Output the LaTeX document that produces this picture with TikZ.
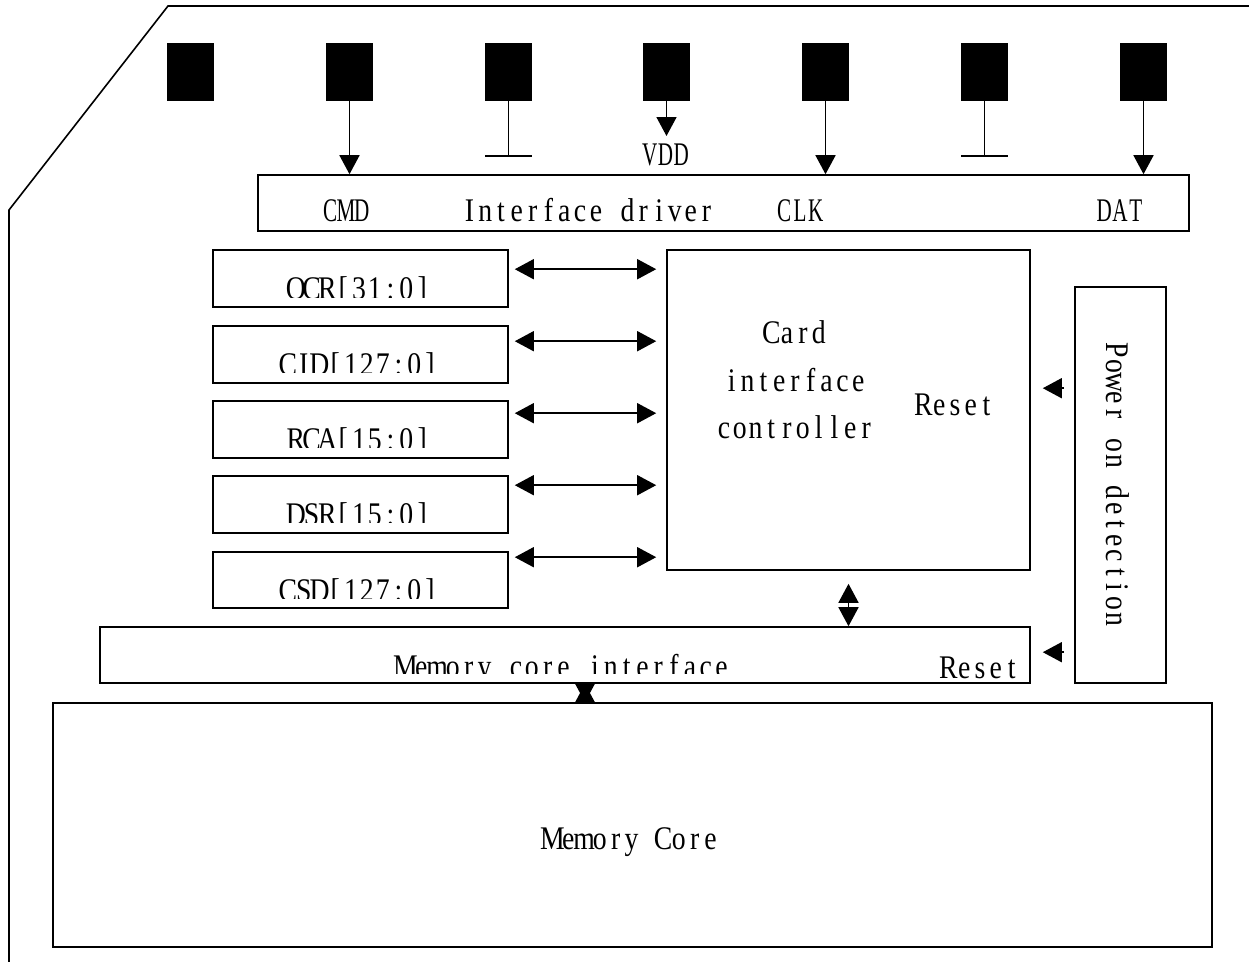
\documentclass[tikz,border=0pt]{standalone}
\usepackage{fontspec}
\setmainfont{Liberation Serif}
\newfontfamily\txtfont[FakeStretch=0.84]{Liberation Serif}
\newfontfamily\condfont[FakeStretch=0.64]{Liberation Serif}
\usetikzlibrary{arrows.meta,calc}
\ExplSyntaxOn
\NewDocumentCommand \mono { m } { \tl_map_inline:nn {#1} { \makebox[15.8pt]{##1} } }
\ExplSyntaxOff
\tikzset{
  box/.style={draw, line width=1.6pt, inner sep=0pt},
  pinbox/.style={fill=black, inner sep=0pt, minimum width=47pt, minimum height=58pt},
  arr/.style={line width=1.6pt, -{Triangle[length=19pt,width=20pt]}},
  dbl/.style={line width=1.6pt, {Triangle[length=19pt,width=20pt]}-{Triangle[length=19pt,width=20pt]}},
  lbl/.style={anchor=base, inner sep=0pt, font=\txtfont\fontsize{33}{40}\selectfont},
  clbl/.style={lbl, font=\condfont\fontsize{33}{40}\selectfont},
}
\begin{document}
\begin{tikzpicture}[x=1pt,y=-1pt]
\useasboundingbox[fill=white] (0,0) rectangle (1249,961);
% card outline
\draw[line width=1.6pt] (1252,6) -- (168,6) -- (9,210) -- (9,964);
% pins
\foreach \i/\x in {1/190.5,2/349.5,3/508.5,4/666.5,5/825.5,6/984.5,7/1143.5}
  \node[pinbox] (p\i) at (\x,72) {};
% boxes
\node[box, minimum width=931pt, minimum height=56pt] (drv) at (723.5,203) {};
\node[box, minimum width=295pt, minimum height=57pt] (ocr) at (360.5,278.5) {};
\node[box, minimum width=295pt, minimum height=57pt] (cid) at (360.5,354.5) {};
\node[box, minimum width=295pt, minimum height=57pt] (rca) at (360.5,429.5) {};
\node[box, minimum width=295pt, minimum height=57pt] (dsr) at (360.5,504.5) {};
\node[box, minimum width=295pt, minimum height=56pt] (csd) at (360.5,580) {};
\node[box, minimum width=363pt, minimum height=320pt] (ctrl) at (848.5,410) {};
\node[box, minimum width=930pt, minimum height=56pt] (mci) at (565,655) {};
\node[box, minimum width=91pt, minimum height=396pt] (pod) at (1120.5,485) {};
\node[box, minimum width=1159pt, minimum height=244pt] (mem) at (632.5,825) {};
% pin connectors
\draw[arr] (p2.south) -- (p2.south |- drv.north);
\draw[arr] (p5.south) -- (p5.south |- drv.north);
\draw[arr] (p7.south) -- (p7.south |- drv.north);
\coordinate (g3) at (508.5,156);
\coordinate (g6) at (984.5,156);
\coordinate (vdd) at (666.5,136);
\draw[line width=1.6pt] (p3.south) -- (g3);
\draw[line width=1.6pt] ([xshift=-23.5pt]g3) -- ([xshift=23.5pt]g3);
\draw[line width=1.6pt] (p6.south) -- (g6);
\draw[line width=1.6pt] ([xshift=-23.5pt]g6) -- ([xshift=23.5pt]g6);
\draw[arr] (p4.south) -- (vdd);
\node[clbl] (vddl) at (665.5,165) {\mono{VDD}};
% register arrows
\draw[dbl] ($(ocr.north east)+(6,20)$) -- ($(ocr.north east -| ctrl.west)+(-10,20)$);
\draw[dbl] ($(cid.north east)+(6,16)$) -- ($(cid.north east -| ctrl.west)+(-10,16)$);
\draw[dbl] ($(rca.north east)+(6,13)$) -- ($(rca.north east -| ctrl.west)+(-10,13)$);
\draw[dbl] ($(dsr.north east)+(6,10)$) -- ($(dsr.north east -| ctrl.west)+(-10,10)$);
\draw[dbl] ($(csd.north east)+(6,6)$) -- ($(csd.north east -| ctrl.west)+(-10,6)$);
% controller to memory core interface
\draw[dbl] ($(ctrl.south)+(0,13)$) -- (mci.north -| ctrl.south);
% memory core interface to memory core (two overlapping heads)
\coordinate (sx) at (585,0);
\draw[arr] (mem.north -| sx) -- (mci.south -| sx);
\draw[arr] (mci.south -| sx) -- (mem.north -| sx);
% reset arrows
\draw[arr] ($(pod.north west)+(-10,102)$) -- ($(ctrl.north east)+(12,139)$);
\draw[arr] ($(pod.north west)+(-10,366)$) -- ($(mci.north east)+(12,26)$);
% texts of interface driver
\begin{scope}
\clip (258,175) rectangle (1189,222.5);
\node[clbl] (tcmd) at (346,221.5) {\mono{CMD}};
\node[lbl] (tdrv) at (588,221.5) {\mono{Interface~driver}};
\node[clbl] (tclk) at (800,221.5) {\mono{CLK}};
\node[clbl] (tdat) at (1120,221.5) {\mono{DAT}};
\end{scope}
% register texts (clipped as in the original)
\begin{scope}\clip (213,250) rectangle (508,297);
\node[lbl] (tocr) at (359,299.5) {\mono{OCR[31:0]}};\end{scope}
\begin{scope}\clip (213,326) rectangle (508,372.5);
\node[lbl] (tcid) at (359,375.5) {\mono{CID[127:0]}};\end{scope}
\begin{scope}\clip (213,401) rectangle (508,447.5);
\node[lbl] (trca) at (359,450.5) {\mono{RCA[15:0]}};\end{scope}
\begin{scope}\clip (213,476) rectangle (508,522.5);
\node[lbl] (tdsr) at (359,525.5) {\mono{DSR[15:0]}};\end{scope}
\begin{scope}\clip (213,552) rectangle (508,598);
\node[lbl] (tcsd) at (359,601.5) {\mono{CSD[127:0]}};\end{scope}
% controller texts
\node[lbl] (tc1) at (795,343) {\mono{Card}};
\node[lbl] (tc2) at (795,391) {\mono{interface}};
\node[lbl] (tc3) at (795,438) {\mono{controller}};
\node[lbl] (trs1) at (955,415) {\mono{Reset}};
% memory core interface texts
\begin{scope}\clip (100,627) rectangle (1030,673);
\node[lbl] (tmci) at (563.5,677.5) {\mono{Memory~core~interface}};\end{scope}
\node[lbl] (trs2) at (980,678) {\mono{Reset}};
% power on detection
\node[inner sep=0pt, rotate=-90, font=\txtfont\fontsize{33}{40}\selectfont] (tpod) at (1118,485) {\mono{Power~on~detection}};
% memory core
\node[lbl] (tmem) at (631.5,849) {\mono{Memory~Core}};
\end{tikzpicture}
\end{document}
